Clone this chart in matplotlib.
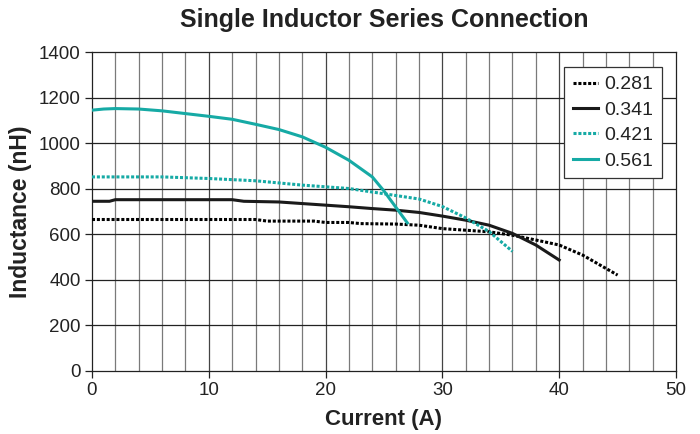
import numpy as np
import matplotlib
matplotlib.use('Agg')
import matplotlib.pyplot as plt

plt.rcParams['font.family'] = ['Liberation Sans', 'DejaVu Sans']

# ---------------------------------------------------------------------------
TEAL = '#16aaa5'

x_281 = [0, 14, 15, 19, 20, 22, 23, 26, 28, 30, 32, 34, 36, 38, 40, 42, 45]
y_281 = [665, 665, 658, 658, 652, 652, 647, 645, 640, 625, 618, 611, 596,
         575, 553, 509, 421]

x_341 = [0, 1.5, 2, 12, 13, 16, 18, 20, 22, 24, 26, 28, 30, 32, 34, 36, 38, 40]
y_341 = [745, 745, 752, 752, 745, 742, 735, 728, 721, 713, 706, 696, 680,
         662, 640, 604, 553, 487]

x_421 = [0, 6, 10, 14, 18, 22, 25, 28, 30, 32, 34, 36]
y_421 = [852, 852, 845, 835, 816, 801, 778, 755, 722, 672, 612, 525]

x_561 = [0, 1, 2, 4, 6, 8, 10, 12, 14, 16, 18, 20, 22, 24, 25, 26, 27]
y_561 = [1145, 1150, 1152, 1150, 1142, 1130, 1118, 1105, 1083, 1060, 1028,
         982, 925, 852, 790, 720, 650]

SERIES = [
    ('0.281', x_281, y_281, 'black', (0, (1, 0.6))),
    ('0.341', x_341, y_341, '#1a1a1a', '-'),
    ('0.421', x_421, y_421, TEAL, (0, (1, 0.6))),
    ('0.561', x_561, y_561, TEAL, '-'),
]
# ---------------------------------------------------------------------------

fig = plt.figure(figsize=(7, 4.34), dpi=100)
ax = fig.add_axes([0.1314, 0.1452, 0.8343, 0.7348])

# grid: vertical every 2 A (a bit darker every 10), horizontal every 200 nH
for xv in np.arange(2, 50, 2):
    col = '#444444' if xv % 10 == 0 else '#7a7a7a'
    ax.axvline(xv, color=col, lw=0.9, zorder=1)
for yv in np.arange(200, 1400, 200):
    ax.axhline(yv, color='#222222', lw=0.9, zorder=1)

for label, xs, ys, color, ls in SERIES:
    ax.plot(xs, ys, color=color, linestyle=ls, lw=2.2, label=label, zorder=3)

ax.set_xlim(0, 50)
ax.set_ylim(0, 1400)
ax.set_xticks(np.arange(0, 51, 10))
ax.set_yticks(np.arange(0, 1401, 200))
ax.tick_params(direction='out', length=5, width=0.9, labelsize=13.5,
               colors='#222222', pad=3)
for sp in ax.spines.values():
    sp.set_color('#222222')
    sp.set_linewidth(0.9)

ax.set_xlabel('Current (A)', fontsize=16, fontweight='bold', labelpad=7,
              color='#222222')
ax.set_ylabel('Inductance (nH)', fontsize=16.5, fontweight='bold', labelpad=5,
              color='#222222')
ax.set_title('Single Inductor Series Connection', fontsize=18,
             fontweight='bold', pad=18, color='#222222')

leg = ax.legend(loc='upper right', bbox_to_anchor=(0.976, 0.953),
                borderaxespad=0, fontsize=14, handlelength=1.3,
                handletextpad=0.3, labelspacing=0.4, borderpad=0.45,
                fancybox=False, framealpha=1, edgecolor='#333333')
leg.get_frame().set_linewidth(0.9)
for t in leg.get_texts():
    t.set_color('#222222')

fig.savefig('out.png', dpi=100)
